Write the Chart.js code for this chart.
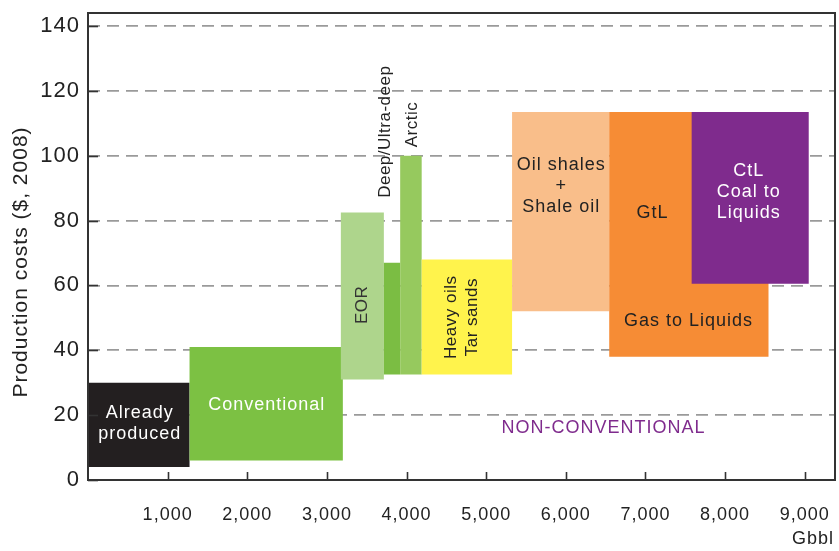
<!DOCTYPE html>
<html>
<head>
<meta charset="utf-8">
<script src="https://cdn.jsdelivr.net/npm/chart.js@4"></script>
<style>
  html, body { margin: 0; padding: 0; background: #fff; }
  #wrap { width: 839px; height: 551px; position: relative; }
</style>
</head>
<body>
<div id="wrap"><canvas id="chartCustos"></canvas></div>
<script>
// Dados (Gbbl no eixo x, custo em $ 2008 no eixo y)
const fontes = ['Already produced', 'Conventional', 'EOR', 'Deep/Ultra-deep', 'Arctic', 'Heavy oils / Tar sands', 'Oil shales + Shale oil', 'GtL', 'CtL'];
const inicioGbbl = [0, 1275, 3175, 3715, 3920, 4190, 5325, 6545, 7580];
const fimGbbl = [1275, 3200, 3715, 3920, 4190, 5325, 6545, 8545, 9050];
const custoMin = [4, 6, 31, 32.5, 32.5, 32.5, 52, 38, 60.5];
const custoMax = [30, 41, 82.5, 67, 100, 68, 113.5, 113.5, 113.5];
const cores = ['#231f20', '#7cc143', '#aed58c', '#7bbd43', '#96c95e', '#fff34c', '#f9be8a', '#f68c35', '#7f2b8d'];

const ticksY = [0, 20, 40, 60, 80, 100, 120, 140];
const ticksX = [1000, 2000, 3000, 4000, 5000, 6000, 7000, 8000, 9000];

// Rótulos escritos sobre o gráfico (posição em unidades dos eixos)
const rotulos = [
  { linhas: ['Already', 'produced'], x: 650, y: 17.3, cor: '#ffffff' },
  { linhas: ['Conventional'], x: 2245, y: 23, cor: '#ffffff' },
  { linhas: ['EOR'], x: 3440, y: 54, cor: '#333333', girar: true },
  { linhas: ['Deep/Ultra-deep'], x: 3730, y: 107.4, cor: '#222222', girar: true },
  { linhas: ['Arctic'], x: 4069, y: 109.6, cor: '#222222', girar: true },
  { linhas: ['Heavy oils', 'Tar sands'], x: 4698, y: 50.2, cor: '#222222', girar: true },
  { linhas: ['Oil shales', '+', 'Shale oil'], x: 5943, y: 90.7, cor: '#222222' },
  { linhas: ['GtL'], x: 7088, y: 82.4, cor: '#222222' },
  { linhas: ['Gas to Liquids'], x: 7541, y: 49, cor: '#222222' },
  { linhas: ['CtL', 'Coal to', 'Liquids'], x: 8296, y: 88.9, cor: '#ffffff' },
  { linhas: ['NON-CONVENTIONAL'], x: 6472, y: 16, cor: '#7f2b8d' }
];

const FONTE = '"Liberation Sans", Arial, sans-serif';

const datasets = fontes.map((nome, i) => ({
  label: nome,
  data: [
    { x: inicioGbbl[i], y: custoMin[i] },
    { x: inicioGbbl[i], y: custoMax[i] },
    { x: fimGbbl[i], y: custoMax[i] },
    { x: fimGbbl[i], y: custoMin[i] }
  ],
  showLine: true,
  fill: 'shape',
  backgroundColor: cores[i],
  borderColor: 'rgba(0,0,0,0)',
  borderWidth: 0,
  pointRadius: 0,
  tension: 0,
  order: fontes.length - i
}));

// textos, moldura e marcas de escala para dentro
const extras = {
  id: 'extras',
  beforeDraw(chart) {
    chart.ctx.letterSpacing = '1px';
  },
  afterDatasetsDraw(chart) {
    const { ctx, chartArea: a, scales: { x, y } } = chart;
    ctx.save();
    ctx.textAlign = 'center';
    ctx.textBaseline = 'middle';
    const passo = 21;
    rotulos.forEach(r => {
      const px = x.getPixelForValue(r.x);
      const py = y.getPixelForValue(r.y);
      ctx.fillStyle = r.cor;
      ctx.save();
      ctx.translate(px, py);
      if (r.girar) {
        ctx.rotate(-Math.PI / 2);
        ctx.letterSpacing = '0.5px';
        ctx.font = '17px ' + FONTE;
      } else {
        ctx.font = '18px ' + FONTE;
      }
      const n = r.linhas.length;
      r.linhas.forEach((t, k) => {
        ctx.fillText(t, 0, (k - (n - 1) / 2) * passo);
      });
      ctx.restore();
    });

    // marcas de escala
    ctx.strokeStyle = '#333';
    ctx.lineWidth = 1.6;
    ticksY.forEach(v => {
      const py = Math.round(y.getPixelForValue(v)) + 0.5;
      ctx.beginPath();
      ctx.moveTo(a.left, py);
      ctx.lineTo(a.left + 10, py);
      ctx.stroke();
    });
    ticksX.forEach(v => {
      const px = Math.round(x.getPixelForValue(v)) + 0.5;
      ctx.beginPath();
      ctx.moveTo(px, a.bottom);
      ctx.lineTo(px, a.bottom - 8);
      ctx.stroke();
    });

    // moldura
    ctx.lineWidth = 2;
    ctx.strokeRect(a.left, a.top, a.right - a.left, a.bottom - a.top);

    // títulos dos eixos
    ctx.fillStyle = '#222';
    ctx.font = '21px ' + FONTE;
    ctx.save();
    ctx.translate(21, 262);
    ctx.rotate(-Math.PI / 2);
    ctx.fillText('Production costs ($, 2008)', 0, 0);
    ctx.restore();
    ctx.font = '18px ' + FONTE;
    ctx.textAlign = 'right';
    ctx.fillText('Gbbl', a.right - 1, 539);
    ctx.restore();
  }
};

new Chart(document.getElementById('chartCustos').getContext('2d'), {
  type: 'scatter',
  data: { datasets },
  options: {
    responsive: true,
    maintainAspectRatio: false,
    animation: false,
    events: [],
    layout: { padding: { top: 13, right: 4, left: 0, bottom: 0 } },
    plugins: {
      legend: { display: false },
      tooltip: { enabled: false }
    },
    scales: {
      x: {
        type: 'linear',
        min: 0,
        max: 9380,
        afterBuildTicks: s => { s.ticks = ticksX.map(v => ({ value: v })); },
        afterFit: s => { s.height = 71; s.paddingLeft = 0; s.paddingRight = 0; },
        border: { display: false },
        grid: { display: false, drawTicks: false },
        ticks: {
          padding: 24,
          color: '#222',
          font: { family: FONTE, size: 18 },
          maxRotation: 0,
          autoSkip: false,
          callback: v => v.toLocaleString('en-US')
        }
      },
      y: {
        min: 0,
        max: 144,
        afterBuildTicks: s => { s.ticks = ticksY.map(v => ({ value: v })); },
        afterFit: s => { s.width = 88; s.paddingTop = 0; s.paddingBottom = 0; },
        border: { display: false, dash: [12, 7] },
        grid: {
          drawTicks: false,
          color: c => (c.tick && c.tick.value === 0) ? 'rgba(0,0,0,0)' : '#9a9a9a',
          lineWidth: 1.8
        },
        ticks: {
          padding: 8,
          color: '#222',
          font: { family: FONTE, size: 22 }
        }
      }
    }
  },
  plugins: [extras]
});
</script>
</body>
</html>
